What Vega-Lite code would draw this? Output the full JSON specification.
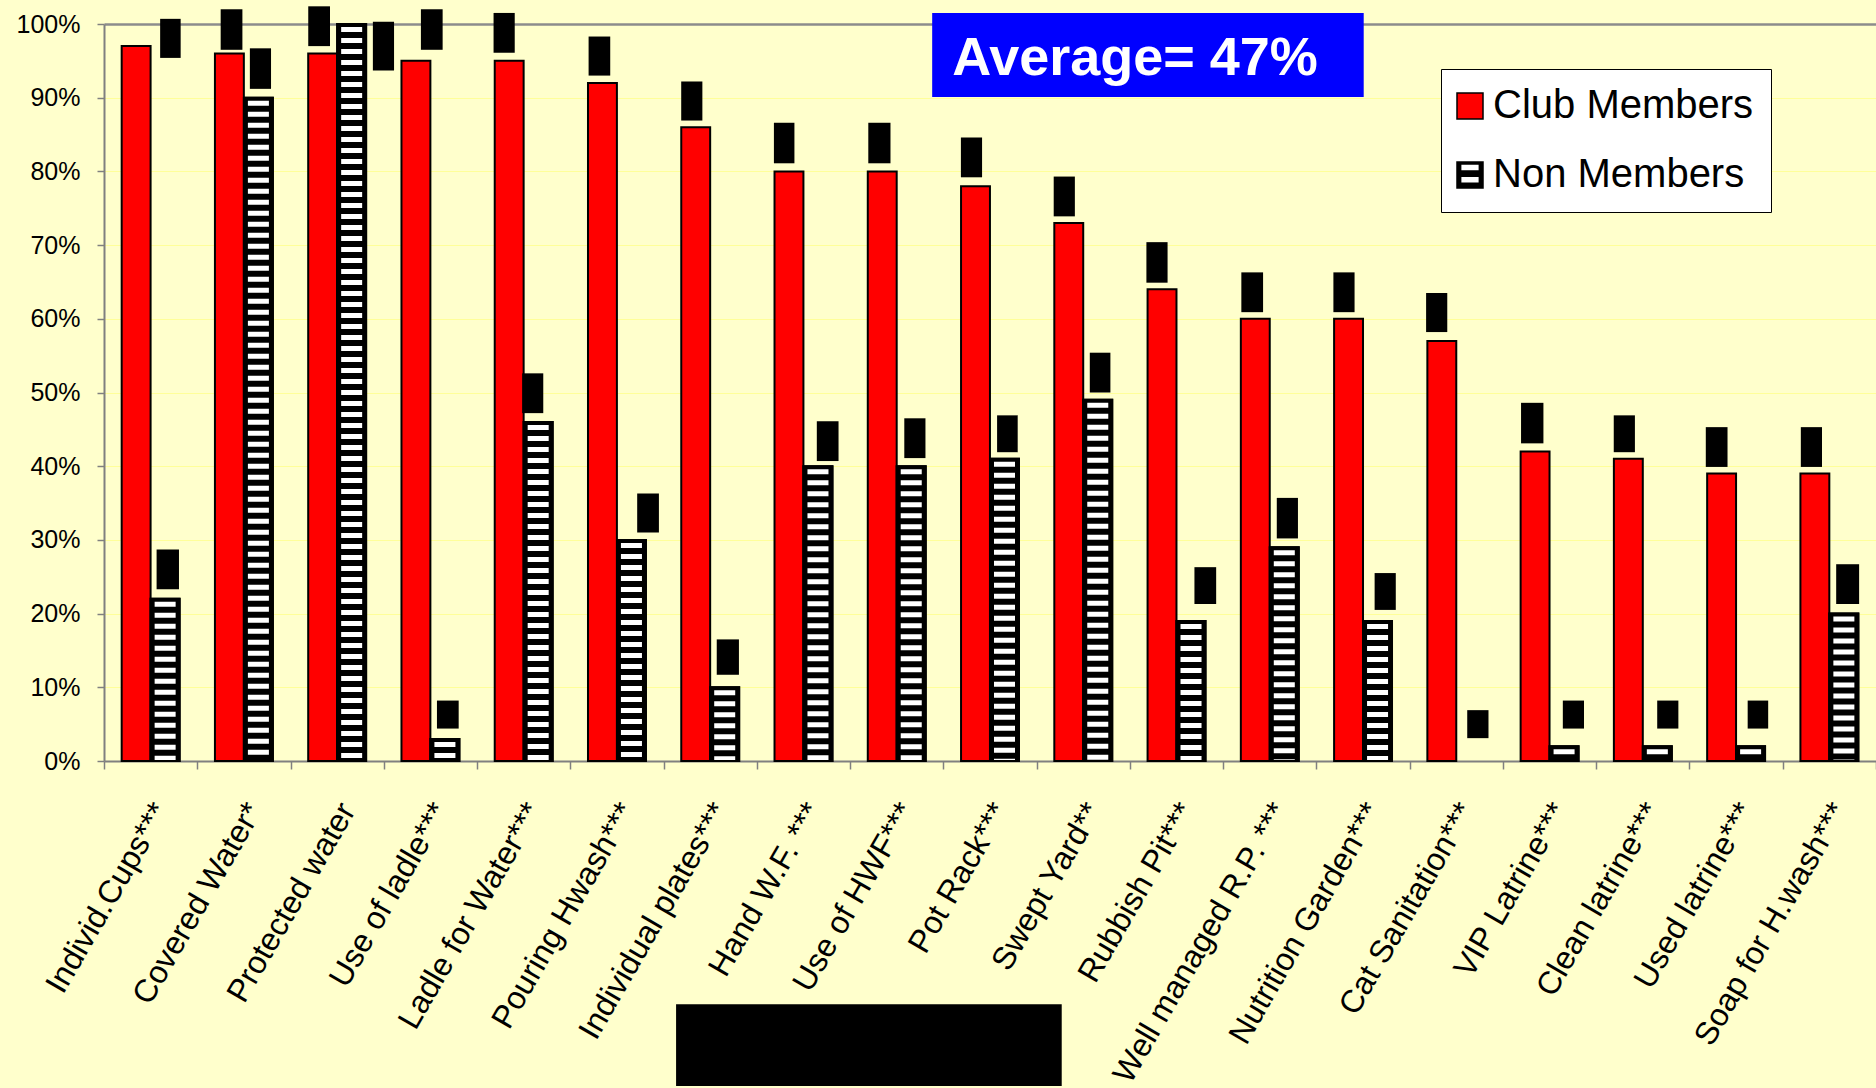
{
  "$schema": "https://vega.github.io/schema/vega-lite/v6.json",
  "width": 1772,
  "height": 737,
  "autosize": {"type": "none"},
  "padding": {"left": 104, "top": 24, "right": 0, "bottom": 327},
  "background": "#FFFFCC",
  "config": {"view": {"stroke": null}, "font": "Liberation Sans"},
  "datasets": {
    "bars": [
      {"cat": "Individ.Cups***", "series": "Club Members", "value": 97},
      {"cat": "Individ.Cups***", "series": "Non Members", "value": 22},
      {"cat": "Covered Water*", "series": "Club Members", "value": 96},
      {"cat": "Covered Water*", "series": "Non Members", "value": 90},
      {"cat": "Protected water", "series": "Club Members", "value": 96},
      {"cat": "Protected water", "series": "Non Members", "value": 100},
      {"cat": "Use of ladle***", "series": "Club Members", "value": 95},
      {"cat": "Use of ladle***", "series": "Non Members", "value": 3},
      {"cat": "Ladle for Water***", "series": "Club Members", "value": 95},
      {"cat": "Ladle for Water***", "series": "Non Members", "value": 46},
      {"cat": "Pouring  Hwash***", "series": "Club Members", "value": 92},
      {"cat": "Pouring  Hwash***", "series": "Non Members", "value": 30},
      {"cat": "Individual plates***", "series": "Club Members", "value": 86},
      {"cat": "Individual plates***", "series": "Non Members", "value": 10},
      {"cat": "Hand W.F. ***", "series": "Club Members", "value": 80},
      {"cat": "Hand W.F. ***", "series": "Non Members", "value": 40},
      {"cat": "Use of HWF***", "series": "Club Members", "value": 80},
      {"cat": "Use of HWF***", "series": "Non Members", "value": 40},
      {"cat": "Pot Rack***", "series": "Club Members", "value": 78},
      {"cat": "Pot Rack***", "series": "Non Members", "value": 41},
      {"cat": "Swept Yard**", "series": "Club Members", "value": 73},
      {"cat": "Swept Yard**", "series": "Non Members", "value": 49},
      {"cat": "Rubbish Pit***", "series": "Club Members", "value": 64},
      {"cat": "Rubbish Pit***", "series": "Non Members", "value": 19},
      {"cat": "Well managed R.P. ***", "series": "Club Members", "value": 60},
      {"cat": "Well managed R.P. ***", "series": "Non Members", "value": 29},
      {"cat": "Nutrition Garden***", "series": "Club Members", "value": 60},
      {"cat": "Nutrition Garden***", "series": "Non Members", "value": 19},
      {"cat": "Cat Sanitation***", "series": "Club Members", "value": 57},
      {"cat": "Cat Sanitation***", "series": "Non Members", "value": 0},
      {"cat": "VIP Latrine***", "series": "Club Members", "value": 42},
      {"cat": "VIP Latrine***", "series": "Non Members", "value": 2},
      {"cat": "Clean latrine***", "series": "Club Members", "value": 41},
      {"cat": "Clean latrine***", "series": "Non Members", "value": 2},
      {"cat": "Used latrine***", "series": "Club Members", "value": 39},
      {"cat": "Used latrine***", "series": "Non Members", "value": 2},
      {"cat": "Soap for H.wash***", "series": "Club Members", "value": 39},
      {"cat": "Soap for H.wash***", "series": "Non Members", "value": 20}
    ],
    "labelBoxes": [
      {"x1": 0.602, "x2": 0.822, "y1": 95.4, "y2": 100.7},
      {"x1": 0.564, "x2": 0.804, "y1": 23.3, "y2": 28.7},
      {"x1": 1.251, "x2": 1.484, "y1": 96.5, "y2": 102.0},
      {"x1": 1.564, "x2": 1.791, "y1": 91.2, "y2": 96.7},
      {"x1": 2.190, "x2": 2.423, "y1": 97.0, "y2": 102.4},
      {"x1": 2.883, "x2": 3.110, "y1": 93.7, "y2": 100.3},
      {"x1": 3.398, "x2": 3.631, "y1": 96.5, "y2": 102.0},
      {"x1": 3.570, "x2": 3.803, "y1": 4.4, "y2": 8.2},
      {"x1": 4.177, "x2": 4.404, "y1": 96.1, "y2": 101.5},
      {"x1": 4.484, "x2": 4.710, "y1": 47.2, "y2": 52.6},
      {"x1": 5.196, "x2": 5.428, "y1": 93.0, "y2": 98.3},
      {"x1": 5.717, "x2": 5.950, "y1": 31.0, "y2": 36.3},
      {"x1": 6.189, "x2": 6.416, "y1": 86.9, "y2": 92.2},
      {"x1": 6.570, "x2": 6.808, "y1": 11.7, "y2": 16.5},
      {"x1": 7.183, "x2": 7.403, "y1": 81.1, "y2": 86.6},
      {"x1": 7.643, "x2": 7.876, "y1": 40.7, "y2": 46.1},
      {"x1": 8.195, "x2": 8.433, "y1": 81.1, "y2": 86.6},
      {"x1": 8.581, "x2": 8.808, "y1": 41.1, "y2": 46.5},
      {"x1": 9.188, "x2": 9.415, "y1": 79.2, "y2": 84.6},
      {"x1": 9.576, "x2": 9.797, "y1": 41.9, "y2": 46.9},
      {"x1": 10.183, "x2": 10.410, "y1": 73.9, "y2": 79.3},
      {"x1": 10.570, "x2": 10.791, "y1": 50.0, "y2": 55.4},
      {"x1": 11.177, "x2": 11.404, "y1": 64.9, "y2": 70.4},
      {"x1": 11.692, "x2": 11.925, "y1": 21.3, "y2": 26.3},
      {"x1": 12.195, "x2": 12.428, "y1": 60.9, "y2": 66.3},
      {"x1": 12.575, "x2": 12.802, "y1": 30.2, "y2": 35.7},
      {"x1": 13.182, "x2": 13.409, "y1": 60.9, "y2": 66.3},
      {"x1": 13.624, "x2": 13.851, "y1": 20.5, "y2": 25.5},
      {"x1": 14.176, "x2": 14.403, "y1": 58.2, "y2": 63.5},
      {"x1": 14.617, "x2": 14.845, "y1": 3.1, "y2": 6.9},
      {"x1": 15.194, "x2": 15.434, "y1": 43.1, "y2": 48.6},
      {"x1": 15.642, "x2": 15.869, "y1": 4.4, "y2": 8.2},
      {"x1": 16.188, "x2": 16.415, "y1": 41.9, "y2": 46.9},
      {"x1": 16.654, "x2": 16.881, "y1": 4.4, "y2": 8.2},
      {"x1": 17.175, "x2": 17.408, "y1": 39.9, "y2": 45.3},
      {"x1": 17.624, "x2": 17.844, "y1": 4.4, "y2": 8.2},
      {"x1": 18.194, "x2": 18.421, "y1": 39.9, "y2": 45.3},
      {"x1": 18.573, "x2": 18.819, "y1": 21.3, "y2": 26.7},
      {"x1": 6.134, "x2": 10.269, "y1": -44.1, "y2": -33.0}
    ],
    "average": [
      {"x1": 8.880, "x2": 13.507, "y1": 90.1, "y2": 101.5, "tx": 9.094, "ty": 93.1, "label": "Average= 47%"}
    ]
  },
  "layer": [
    {
      "data": {"name": "bars"},
      "transform": [{"filter": "datum.series === 'Club Members'"}],
      "mark": {"type": "bar", "width": {"band": 0.31}, "xOffset": -14.5, "stroke": "#000000", "strokeWidth": 2},
      "encoding": {
        "x": {
          "field": "cat", "type": "nominal", "sort": null, "title": null,
          "scale": {"paddingInner": 0, "paddingOuter": 0},
          "axis": {
            "tickBand": "extent", "domainColor": "#808080", "domainWidth": 2,
            "tickColor": "#808080", "tickSize": 8, "tickWidth": 1.5,
            "labelAngle": -60, "labelAlign": "right", "labelBaseline": "middle",
            "labelFont": "Liberation Sans", "labelFontSize": 32, "labelColor": "#000000",
            "labelPadding": 36, "labelOffset": 10, "labelOverlap": false, "labelLimit": 1000,
            "grid": false
          }
        },
        "y": {
          "field": "value", "type": "quantitative", "title": null,
          "scale": {"domain": [0, 100], "nice": false},
          "axis": {
            "values": [0, 10, 20, 30, 40, 50, 60, 70, 80, 90, 100],
            "labelExpr": "datum.value + '%'",
            "labelFont": "Liberation Sans", "labelFontSize": 25, "labelColor": "#000000",
            "labelPadding": 17, "tickSize": 7, "tickColor": "#808080", "tickWidth": 1.5,
            "domainColor": "#808080", "domainWidth": 2,
            "grid": true,
            "gridColor": {"condition": {"test": "datum.value === 100", "value": "#8C8C8C"}, "value": "#FFFF99"},
            "gridWidth": {"condition": {"test": "datum.value === 100", "value": 2.5}, "value": 1}
          }
        },
        "color": {
          "field": "series", "type": "nominal",
          "scale": {"domain": ["Club Members", "Non Members"], "range": ["#FF0000", "#000000"]},
          "legend": {
            "title": null, "orient": "none", "legendX": 1337, "legendY": 45,
            "fillColor": "#FFFFFF", "strokeColor": "#000000", "padding": 17,
            "labelFont": "Liberation Sans", "labelFontSize": 40, "labelColor": "#000000", "labelLimit": 1000,
            "labelOffset": 3, "rowPadding": 29, "symbolOffset": -8,
            "symbolType": "square", "symbolSize": 676, "symbolStrokeColor": "#000000", "symbolStrokeWidth": 1.5, "symbolOpacity": 1,
            "encode": {
              "symbols": {
                "update": {
                  "shape": {"signal": "datum.value === 'Non Members' ? 'M-1,-1H1V1H-1Z M-0.72,-0.84V-0.3H0.72V-0.84Z M-0.72,0.1V0.64H0.72V0.1Z' : 'square'"}
                }
              }
            }
          }
        }
      }
    },
    {
      "data": {"name": "bars"},
      "transform": [{"filter": "datum.series === 'Non Members'"}],
      "mark": {"type": "bar", "width": {"band": 0.31}, "xOffset": 14.5, "stroke": "#000000"},
      "encoding": {
        "x": {"field": "cat", "type": "nominal", "sort": null, "axis": null, "scale": {"paddingInner": 0, "paddingOuter": 0}},
        "y": {"field": "value", "type": "quantitative", "title": null, "scale": {"domain": [0, 100], "nice": false}},
        "color": {"field": "series", "type": "nominal", "scale": {"domain": ["Club Members", "Non Members"], "range": ["#FF0000", "#000000"]}},
        "strokeWidth": {"condition": {"test": "datum.value === 0", "value": 0}, "value": 2}
      }
    },
    {
      "data": {"name": "bars"},
      "transform": [{"filter": "datum.series === 'Non Members'"}],
      "mark": {"type": "rule", "xOffset": 14.5, "color": "#FFFFFF", "strokeWidth": 21, "strokeDash": [5, 6], "strokeDashOffset": 8},
      "encoding": {
        "x": {"field": "cat", "type": "nominal", "sort": null, "axis": null, "scale": {"paddingInner": 0, "paddingOuter": 0}},
        "y": {"field": "value", "type": "quantitative", "title": null, "scale": {"domain": [0, 100], "nice": false}},
        "y2": {"datum": 0}
      }
    },
    {
      "data": {"name": "bars"},
      "transform": [{"filter": "datum.series === 'Non Members'"}],
      "mark": {"type": "bar", "width": {"band": 0.31}, "xOffset": 14.5, "fill": "transparent", "stroke": "#000000"},
      "encoding": {
        "x": {"field": "cat", "type": "nominal", "sort": null, "axis": null, "scale": {"paddingInner": 0, "paddingOuter": 0}},
        "y": {"field": "value", "type": "quantitative", "title": null, "scale": {"domain": [0, 100], "nice": false}},
        "strokeWidth": {"condition": {"test": "datum.value === 0", "value": 0}, "value": 2}
      }
    },
    {
      "data": {"name": "labelBoxes"},
      "mark": {"type": "rect", "color": "#000000"},
      "encoding": {
        "x": {"field": "x1", "type": "quantitative", "axis": null, "scale": {"domain": [0, 19], "nice": false, "zero": false}},
        "x2": {"field": "x2"},
        "y": {"field": "y1", "type": "quantitative", "title": null, "scale": {"domain": [0, 100], "nice": false}},
        "y2": {"field": "y2"}
      }
    },
    {
      "data": {"name": "average"},
      "mark": {"type": "rect", "color": "#0000FF"},
      "encoding": {
        "x": {"field": "x1", "type": "quantitative", "axis": null, "scale": {"domain": [0, 19], "nice": false, "zero": false}},
        "x2": {"field": "x2"},
        "y": {"field": "y1", "type": "quantitative", "title": null, "scale": {"domain": [0, 100], "nice": false}},
        "y2": {"field": "y2"}
      }
    },
    {
      "data": {"name": "average"},
      "mark": {"type": "text", "color": "#FFFFFF", "font": "Liberation Sans", "fontWeight": "bold", "fontSize": 54, "align": "left", "baseline": "alphabetic"},
      "encoding": {
        "x": {"field": "tx", "type": "quantitative", "axis": null, "scale": {"domain": [0, 19], "nice": false, "zero": false}},
        "y": {"field": "ty", "type": "quantitative", "title": null, "scale": {"domain": [0, 100], "nice": false}},
        "text": {"field": "label", "type": "nominal"}
      }
    }
  ],
  "resolve": {"scale": {"x": "independent"}}
}
